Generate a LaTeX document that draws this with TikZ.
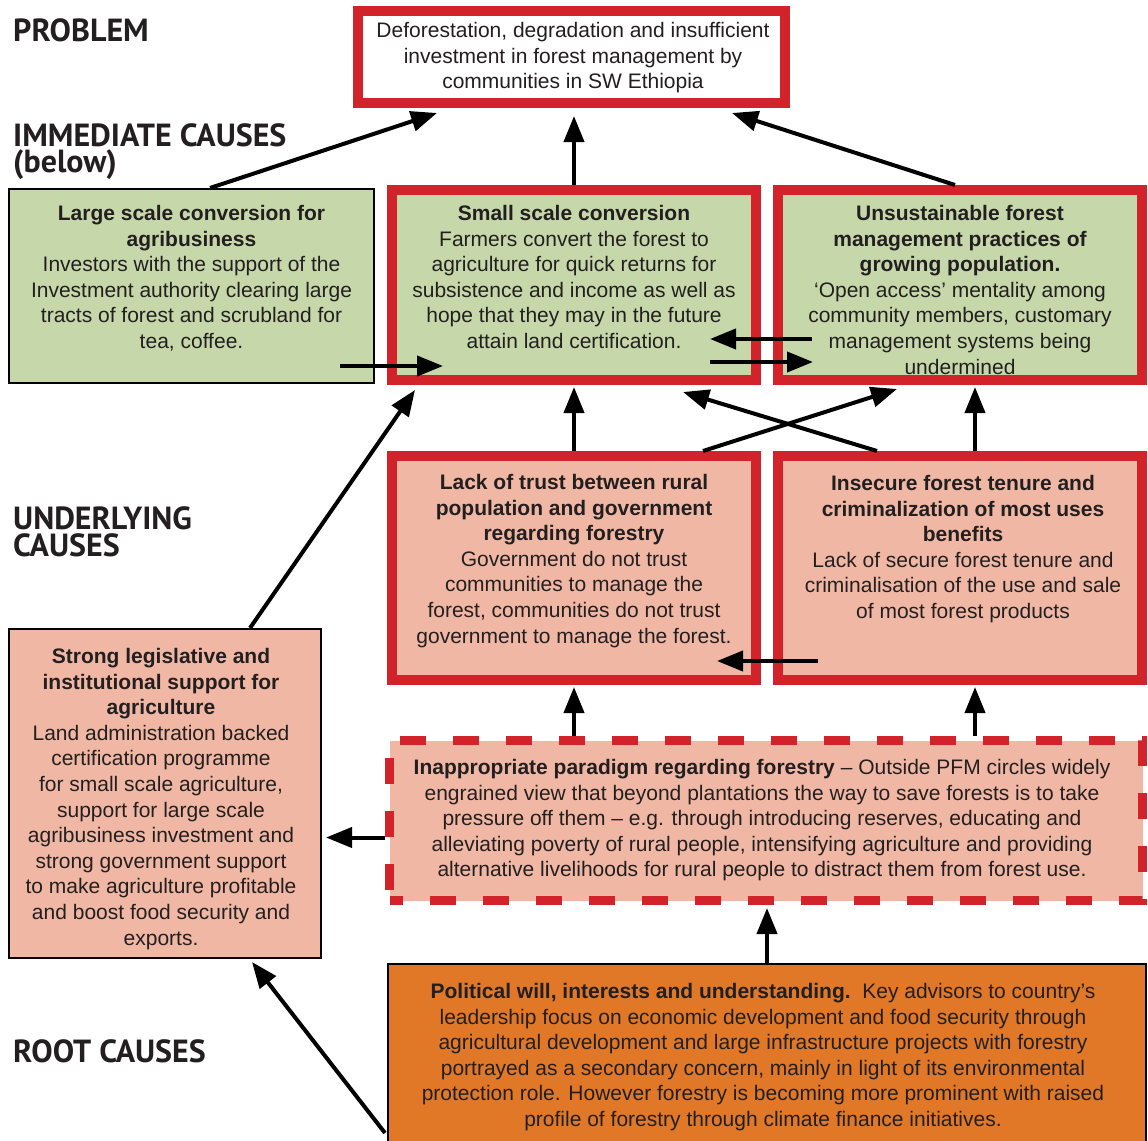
\documentclass[tikz,border=0pt]{standalone}
\usepackage{fontspec}
\setmainfont{Liberation Sans}
\newfontfamily\headfont{PT Sans}
\usetikzlibrary{arrows.meta,calc}
\definecolor{boxred}{HTML}{D2232A}
\definecolor{leaf}{HTML}{C6D8AA}
\definecolor{salmon}{HTML}{F0B8A4}
\definecolor{rootorange}{HTML}{E07828}
\definecolor{ink}{HTML}{231F20}

\begin{document}
\begin{tikzpicture}[x=1pt,y=-1pt,
  redbox/.style={draw=boxred, line width=10pt, inner sep=0pt},
  blackbox/.style={draw=black, line width=2pt, inner sep=0pt},
  dashbox/.style={draw=boxred, line width=9pt, inner sep=0pt, line join=miter,
    dash pattern=on 26pt off 27pt, dash phase=13pt},
  body/.style={inner sep=0pt, align=center, anchor=north, text=ink,
    font=\fontsize{21}{25.6}\selectfont},
  level/.style={inner sep=0pt, anchor=base west, text=ink,
    font=\headfont\bfseries\fontsize{32}{34}\selectfont},
  arr/.style={line width=4pt, -{Triangle[length=26pt,width=20pt]}}
]
\path[use as bounding box] (0,0) rectangle (1148,1140);
\clip (0,0) rectangle (1148,1140);

% level headings
\node[level] (hprob) at (13,42) {PROBLEM};
\node[level] (himm) at (13,146) {IMMEDIATE CAUSES};
\node[level] (himb) at (13,172) {(below)};
\node[level] (hund) at (13,529) {UNDERLYING};
\node[level] (hunc) at (13,556) {CAUSES};
\node[level] (hroot) at (13,1062) {ROOT CAUSES};

% boxes
\node[redbox, fill=white, minimum width=427, minimum height=92] (prob) at (571.5,57) {};
\node[blackbox, fill=leaf, minimum width=365, minimum height=194] (lsc) at (191.5,286) {};
\node[redbox, fill=leaf, minimum width=364, minimum height=190] (ssc) at (574,285) {};
\node[redbox, fill=leaf, minimum width=364, minimum height=190] (ufm) at (960,285) {};
\node[redbox, fill=salmon, minimum width=364, minimum height=224] (ltr) at (574,568) {};
\node[redbox, fill=salmon, minimum width=364, minimum height=224] (ift) at (960,568) {};
\node[blackbox, fill=salmon, minimum width=312, minimum height=329] (sls) at (165,793.5) {};
\node[dashbox, fill=salmon, minimum width=753, minimum height=160] (iap) at (766,820.5) {};
\node[blackbox, fill=rootorange, minimum width=758, minimum height=195] (pol) at (767,1061.5) {};

% box texts
\node[body] (tprob) at (573,22) {Deforestation, degradation and insufficient\\investment in forest management by\\communities in SW Ethiopia};
\node[body] (tlsc) at (191.5,205) {\textbf{Large scale conversion for}\\\textbf{agribusiness}\\Investors with the support of the\\Investment authority clearing large\\tracts of forest and scrubland for\\tea, coffee.};
\node[body] (tssc) at (574,205) {\textbf{Small scale conversion}\\Farmers convert the forest to\\agriculture for quick returns for\\subsistence and income as well as\\hope that they may in the future\\attain land certification.};
\node[body] (tufm) at (960,205) {\textbf{Unsustainable forest}\\\textbf{management practices of}\\\textbf{growing population.}\\‘Open access’ mentality among\\community members, customary\\management systems being\\undermined};
\node[body] (tltr) at (574,474) {\textbf{Lack of trust between rural}\\\textbf{population and government}\\\textbf{regarding forestry}\\Government do not trust\\communities to manage the\\forest, communities do not trust\\government to manage the forest.};
\node[body] (tift) at (963,475) {\textbf{Insecure forest tenure and}\\\textbf{criminalization of most uses}\\\textbf{benefits}\\Lack of secure forest tenure and\\criminalisation of the use and sale\\of most forest products};
\node[body] (tsls) at (161,648) {\textbf{Strong legislative and}\\\textbf{institutional support for}\\\textbf{agriculture}\\Land administration backed\\certification programme\\for small scale agriculture,\\support for large scale\\agribusiness investment and\\strong government support\\to make agriculture profitable\\and boost food security and\\exports.};
\node[body] (tiap) at (762,759) {\textbf{Inappropriate paradigm regarding forestry} – Outside PFM circles widely\\engrained view that beyond plantations the way to save forests is to take\\pressure off them – e.g. through introducing reserves, educating and\\alleviating poverty of rural people, intensifying agriculture and providing\\alternative livelihoods for rural people to distract them from forest use.};
\node[body] (tpol) at (763,983) {\textbf{Political will, interests and understanding.}\ \ Key advisors to country’s\\leadership focus on economic development and food security through\\agricultural development and large infrastructure projects with forestry\\portrayed as a secondary concern, mainly in light of its environmental\\protection role. However forestry is becoming more prominent with raised\\profile of forestry through climate finance initiatives.};

% causal links
\draw[arr] ($(lsc.north west)+(202,0)$) -- ($(prob.south west)+(84,5)$);
\draw[arr] (ssc.north) -- ($(ssc.north |- prob.south)+(0,8)$);
\draw[arr] ($(ufm.north west)+(182,0)$) -- ($(prob.south east)+(-58,5)$);
\draw[arr] ($(lsc.south east)+(-35,-18)$) -- ($(ssc.south west)+(56,-19)$);
\draw[arr] ($(ufm.south west)+(39,-46)$) -- ($(ssc.south east)+(-51,-46)$);
\draw[arr] ($(ssc.south east)+(-51,-23)$) -- ($(ufm.south west)+(40,-23)$);
\draw[arr] (ltr.north) -- ($(ssc.south)+(0,2)$);
\draw[arr] ($(ift.north)+(15,0)$) -- ($(ufm.south)+(15,2)$);
\draw[arr] ($(ltr.north east)+(-58,0)$) -- ($(ufm.south west)+(124,4)$);
\draw[arr] ($(ift.north west)+(104,0)$) -- ($(ssc.south east)+(-78,7)$);
\draw[arr] ($(sls.north west)+(242,0)$) -- ($(ssc.south west)+(28,5)$);
\draw[arr] ($(ift.south west)+(45,-24)$) -- ($(ltr.south east)+(-44,-24)$);
\draw[arr] (iap.north -| ltr.south) -- ($(ltr.south)+(0,2)$);
\draw[arr] ($(iap.north -| ift.south)+(15,0)$) -- ($(ift.south)+(15,2)$);
\coordinate (iapout) at ($(iap.west)+(0,17)$);
\draw[arr] (iapout) -- ($(iapout -| sls.east)+(4,0)$);
\draw[arr] (pol.north) -- ($(pol.north |- iap.south)+(0,3)$);
\draw[arr] ($(pol.north west)+(-2,170)$) -- ($(sls.south west)+(244,3)$);
\end{tikzpicture}
\end{document}
